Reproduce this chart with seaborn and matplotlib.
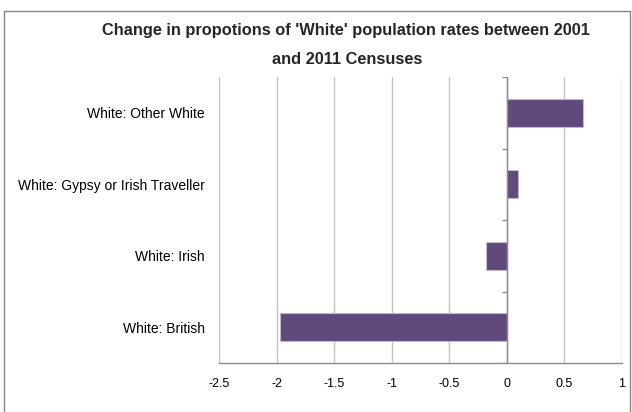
import numpy as np
import pandas as pd
import matplotlib
matplotlib.use('Agg')
import matplotlib.pyplot as plt
import seaborn as sns
from matplotlib.lines import Line2D
from matplotlib.ticker import FuncFormatter

## Data
categories = ['White: Other White', 'White: Gypsy or Irish Traveller',
              'White: Irish', 'White: British']
changes = [0.66, 0.10, -0.18, -1.97]
x_ticks = [-2.5, -2, -1.5, -1, -0.5, 0, 0.5, 1]

df = pd.DataFrame({'group': categories, 'change': changes})

sns.set_style('white')
plt.rcParams['font.family'] = ['Liberation Sans', 'DejaVu Sans']

W, H = 632, 412
fig = plt.figure(figsize=(W / 100, H / 100), dpi=100)
ax = fig.add_axes([219 / W, 1 - 363 / H, (622 - 219) / W, (363 - 77) / H])

sns.barplot(data=df, x='change', y='group', order=categories, orient='h',
            color='#604A7B', saturation=1, width=0.39,
            edgecolor='#BFB8C8', linewidth=0.8, ax=ax, zorder=3)

ax.set_xlim(-2.5, 1)
ax.set_ylim(len(categories) - 0.5, -0.5)
ax.set_xticks(x_ticks)
ax.xaxis.set_major_formatter(FuncFormatter(lambda v, p: '%g' % v))
ax.grid(axis='x', color='#C4C4C4', linewidth=1, zorder=0)
ax.grid(axis='y', visible=False)

for s in ['top', 'right', 'left']:
    ax.spines[s].set_visible(False)
ax.spines['bottom'].set_color('#8C8C8C')
ax.spines['bottom'].set_linewidth(1)

ax.tick_params(axis='x', colors='#8C8C8C', length=4, width=1,
               labelcolor='black', labelsize=9, pad=7, direction='out')
ax.tick_params(axis='y', length=0, labelsize=10, pad=10, labelcolor='black')
ax.set_xlabel('')
ax.set_ylabel('')

# category axis crossing at zero, with boundary tick marks
ax.axvline(0, color='#8C8C8C', linewidth=1, zorder=4)
bounds = np.arange(len(categories) + 1) - 0.5
ax.hlines(bounds, -0.045, 0, color='#8C8C8C', linewidth=1, zorder=4)

fig.text(346 / W, 1 - 30 / H,
         "Change in propotions of 'White' population rates between 2001",
         ha='center', va='center', fontsize=11.8, fontweight='bold')
fig.text(347 / W, 1 - 59 / H, 'and 2011 Censuses',
         ha='center', va='center', fontsize=11.8, fontweight='bold')

# outer chart border
bx0, bx1, by0, by1 = 3.5 / W, 629.5 / W, 1 - 10.5 / H, -0.01
for xs, ys in [([bx0, bx0], [by1, by0]), ([bx0, bx1], [by0, by0]),
               ([bx1, bx1], [by0, by1])]:
    fig.add_artist(Line2D(xs, ys, color='#868686', linewidth=1,
                          transform=fig.transFigure))

fig.savefig('out.png', dpi=100)
